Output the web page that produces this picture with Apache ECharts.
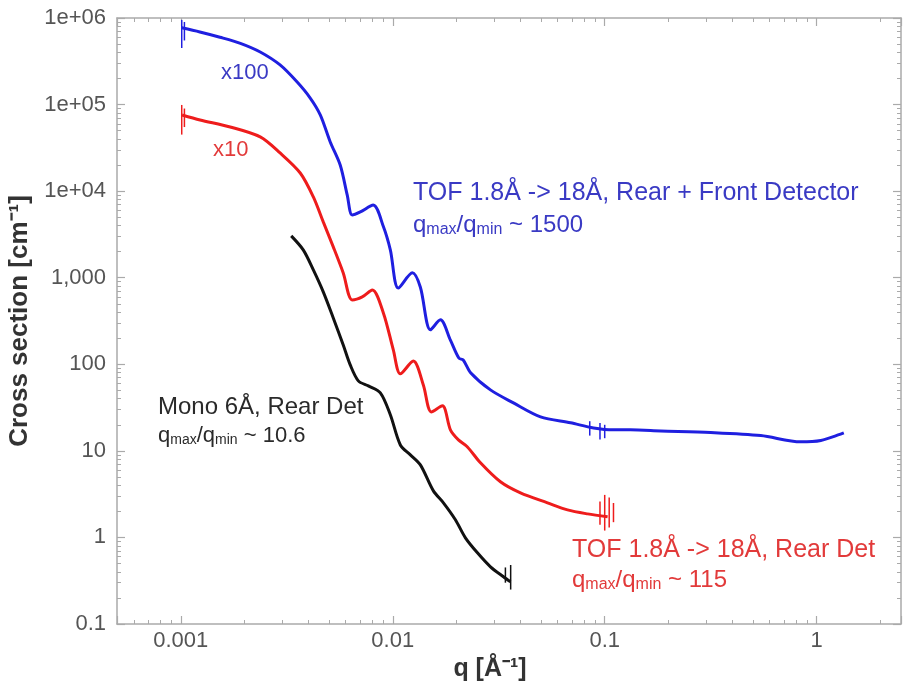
<!DOCTYPE html>
<html><head><meta charset="utf-8">
<script src="https://cdn.jsdelivr.net/npm/echarts@6/dist/echarts.min.js"></script>
<style>html,body{margin:0;padding:0;background:#fff}#c{width:905px;height:683px}</style>
</head><body><div id="c"></div>
<script>
// ---- data (q in 1/Å, cross section in 1/cm) ----
const blueQ = [0.00101,0.00123,0.00153,0.00191,0.00237,0.00294,0.00354,0.00408,0.00455,0.00507,0.00565,0.0061,0.00644,0.00703,0.00809,0.00903,0.00974,0.01062,0.01238,0.01349,0.01505,0.01678,0.01871,0.0205,0.0215,0.0233,0.0289,0.0371,0.0498,0.069,0.0886,0.110,0.132,0.184,0.316,0.545,0.841,1.046,1.343];
const blueI = [7.7e5,6.9e5,6.0e5,5.1e5,4.05e5,2.87e5,1.82e5,1.19e5,7.6e4,3.7e4,2.0e4,9.0e3,5.3e3,5.75e3,6.9e3,3.9e3,2.1e3,760,1140,780,250,326,190,118,112,80,50.6,35.8,24.7,21.1,18.4,17.5,17.5,17.0,16.3,15.0,12.7,13.2,16.1];

const redQ = [0.001014,0.001233,0.00171,0.00237,0.00294,0.00366,0.00422,0.0047,0.00524,0.00584,0.00644,0.00718,0.00801,0.00903,0.01006,0.01086,0.0125,0.01394,0.01521,0.01715,0.01871,0.02041,0.02251,0.02593,0.03221,0.04004,0.05372,0.06677,0.08299,0.1032];
const redI = [7.58e4,6.64e4,5.51e4,4.23e4,2.76e4,1.62e4,8570,4410,2270,1136,554,600,723,392,147,77.5,109,57.8,28.2,33.1,17.5,13.4,11.1,7.27,4.39,3.27,2.51,2.08,1.87,1.73];

const blackQ = [0.003318,0.003781,0.00422,0.0047,0.00524,0.00584,0.0063,0.00688,0.00767,0.00874,0.00974,0.01086,0.01211,0.0135,0.01555,0.01734,0.01975,0.02202,0.02509,0.02891,0.03329,0.03592];
const blackI = [3040,2094,1230,686,343,167,98.4,64.3,56.3,46.8,26.1,11.7,8.99,6.89,3.45,2.51,1.6,0.99,0.664,0.458,0.351,0.307];

// error-bar spreads visible in the picture: q, low, high
const blueErrQ = [0.00101, 0.00104, 0.085, 0.095, 0.1];
const blueErrLo = [4.5e5, 5.5e5, 15, 13.5, 14];
const blueErrHi = [9.5e5, 9.0e5, 22, 21, 20];
const redErrQ = [0.00101, 0.00104, 0.095, 0.1, 0.105, 0.11];
const redErrLo = [4.5e4, 5.5e4, 1.4, 1.2, 1.3, 1.5];
const redErrHi = [9.9e4, 9.0e4, 2.6, 3.1, 2.9, 2.5];
const blackErrQ = [0.034, 0.036];
const blackErrLo = [0.3, 0.25];
const blackErrHi = [0.45, 0.48];

const xTickValues = [0.001, 0.01, 0.1, 1];
const xTickLabels = ['0.001', '0.01', '0.1', '1'];
const yTickValues = [0.1, 1, 10, 100, 1000, 1e4, 1e5, 1e6];
const yTickLabels = ['0.1', '1', '10', '100', '1,000', '1e+04', '1e+05', '1e+06'];

const xMin = 0.0005, xMax = 2.5, yMin = 0.1, yMax = 1e6;

function pairs(q, v) { return q.map((x, i) => [x, v[i]]); }
function triples(q, lo, hi) { return q.map((x, i) => [x, lo[i], hi[i]]); }
function labelFor(values, labels) {
  return function (v) {
    for (let i = 0; i < values.length; i++) {
      if (Math.abs(Math.log10(v) - Math.log10(values[i])) < 1e-6) return labels[i];
    }
    return '';
  };
}

const FONT = 'Liberation Sans, Arial, sans-serif';
const frameColor = '#aaaaaa';
const tickCommon = {
  axisLine: { show: true, lineStyle: { color: frameColor, width: 1.5 } },
  axisTick: { show: true, inside: true, length: 8, lineStyle: { color: frameColor, width: 1.2 } },
  minorTick: { show: true, splitNumber: 9, length: 4, lineStyle: { color: frameColor, width: 1 } },
  splitLine: { show: false },
  minorSplitLine: { show: false }
};

const chart = echarts.init(document.getElementById('c'), null, { renderer: 'canvas' });
const BLUE = '#1f1fe0', RED = '#ee1c1c', BLACK = '#111111';
const BLUE_T = '#3a3ac4', RED_T = '#e23a3a', BLACK_T = '#2a2a2a';

function annot(left, top, rich, text, color, size) {
  return {
    type: 'text', left: left, top: top, z: 100,
    style: { text: text, fill: color, font: size + 'px ' + FONT, rich: rich }
  };
}
function qRich(color, n, s) {
  return {
    n: { fontSize: n, fontFamily: FONT, fill: color, color: color },
    s: { fontSize: s, fontFamily: FONT, fill: color, color: color, padding: [Math.round(n * 0.42), 0, 0, 0] }
  };
}
function errSeries(name, data, color) {
  return {
    name: name, type: 'custom', data: data, z: 3,
    renderItem: function (params, api) {
      const lo = api.coord([api.value(0), api.value(1)]);
      const hi = api.coord([api.value(0), api.value(2)]);
      return { type: 'line', shape: { x1: lo[0], y1: lo[1], x2: hi[0], y2: hi[1] },
               style: { stroke: color, lineWidth: 1.5 } };
    }
  };
}

chart.setOption({
  animation: false,
  backgroundColor: '#fff',
  grid: { left: 117, right: 4, top: 18, bottom: 59, containLabel: false, outerBoundsMode: 'none' },
  xAxis: [
    Object.assign({
      type: 'log', logBase: 10, min: xMin, max: xMax, position: 'bottom',
      name: 'q [Å⁻¹]', nameLocation: 'middle', nameGap: 27,
      nameTextStyle: { fontFamily: FONT, fontSize: 25, fontWeight: 'bold', color: '#333', padding: [0, 38, 0, 0] },
      axisLabel: { show: true, formatter: labelFor(xTickValues, xTickLabels), fontFamily: FONT, fontSize: 22, color: '#555', margin: 6 }
    }, tickCommon),
    Object.assign({
      type: 'log', logBase: 10, min: xMin, max: xMax, position: 'top',
      axisLabel: { show: false }
    }, tickCommon)
  ],
  yAxis: [
    Object.assign({
      type: 'log', logBase: 10, min: yMin, max: yMax, position: 'left',
      name: 'Cross section [cm⁻¹]', nameLocation: 'middle', nameGap: 78, nameRotate: 90,
      nameTextStyle: { fontFamily: FONT, fontSize: 26, fontWeight: 'bold', color: '#333' },
      axisLabel: { show: true, formatter: labelFor(yTickValues, yTickLabels), fontFamily: FONT, fontSize: 22, color: '#555', margin: 11 }
    }, tickCommon),
    Object.assign({
      type: 'log', logBase: 10, min: yMin, max: yMax, position: 'right',
      axisLabel: { show: false }
    }, tickCommon)
  ],
  series: [
    { name: 'TOF rear+front x100', type: 'line', data: pairs(blueQ, blueI),
      showSymbol: false, smooth: 0.3, lineStyle: { color: BLUE, width: 3 } },
    { name: 'TOF rear x10', type: 'line', data: pairs(redQ, redI),
      showSymbol: false, smooth: 0.3, lineStyle: { color: RED, width: 3 } },
    { name: 'Mono 6Å', type: 'line', data: pairs(blackQ, blackI),
      showSymbol: false, smooth: 0.3, lineStyle: { color: BLACK, width: 3 } },
    errSeries('blue err', triples(blueErrQ, blueErrLo, blueErrHi), BLUE),
    errSeries('red err', triples(redErrQ, redErrLo, redErrHi), RED),
    errSeries('black err', triples(blackErrQ, blackErrLo, blackErrHi), BLACK)
  ],
  graphic: [
    annot(221, 62, null, 'x100', BLUE_T, 22),
    annot(213, 139, null, 'x10', RED_T, 22),
    annot(413, 181, null, 'TOF 1.8Å -> 18Å, Rear + Front Detector', BLUE_T, 25),
    annot(413, 213, qRich(BLUE_T, 24, 16), '{n|q}{s|max}{n|/q}{s|min}{n| ~ 1500}', BLUE_T, 24),
    annot(158, 395, null, 'Mono 6Å, Rear Det', BLACK_T, 24),
    annot(158, 425, qRich(BLACK_T, 22, 14), '{n|q}{s|max}{n|/q}{s|min}{n| ~ 10.6}', BLACK_T, 22),
    annot(572, 538, null, 'TOF 1.8Å -> 18Å, Rear Det', RED_T, 25),
    annot(572, 568, qRich(RED_T, 24, 16), '{n|q}{s|max}{n|/q}{s|min}{n| ~ 115}', RED_T, 24)
  ]
});
</script>
</body></html>
